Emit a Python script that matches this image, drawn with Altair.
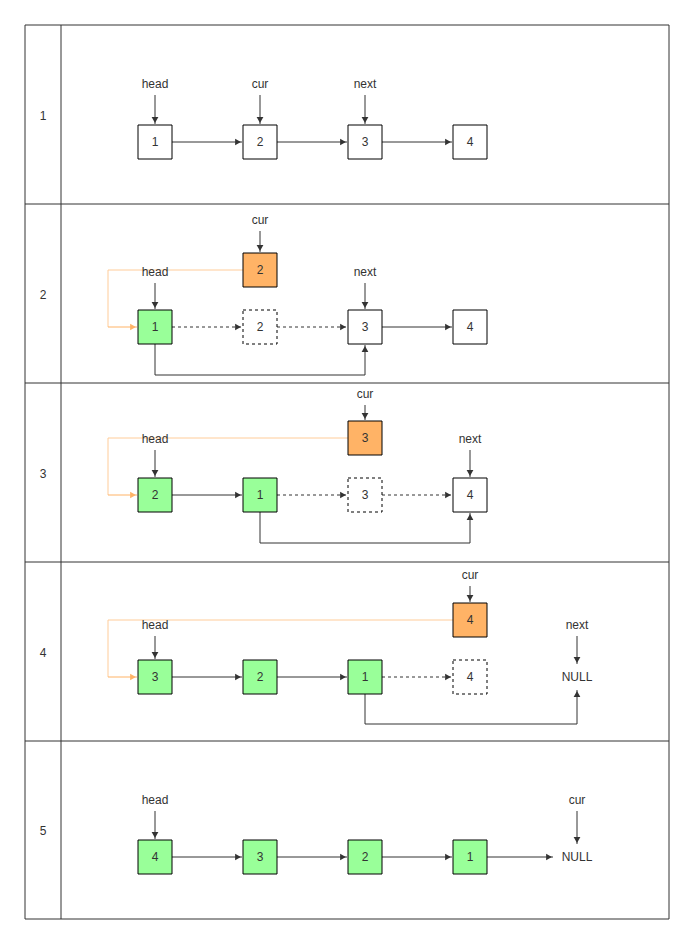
import altair as alt
import pandas as pd

# ---- diagram content ----
ROW_LABELS = ["1", "2", "3", "4", "5"]
ROW_BOUNDS = [25, 204, 383, 562, 741, 919]
SLOT_X = [155, 260, 365, 470, 577]
NODE_Y = [142, 327, 495, 677, 857]

# node values per row, one entry per slot (None = empty), and styles
NODE_VALUES = [
    ["1", "2", "3", "4", None],
    ["1", "2", "3", "4", None],
    ["2", "1", "3", "4", None],
    ["3", "2", "1", "4", None],
    ["4", "3", "2", "1", None],
]
NODE_STYLES = [
    ["w", "w", "w", "w", None],
    ["g", "d", "w", "w", None],
    ["g", "g", "d", "w", None],
    ["g", "g", "g", "d", None],
    ["g", "g", "g", "g", None],
]
NULL_ROWS = [3, 4]

# orange "cur" node: (row, slot, value, y)
ORANGE_NODES = [(1, 1, "2", 270), (2, 2, "3", 438), (3, 3, "4", 620)]

# pointer labels: (row, slot, text, label y)
POINTERS = [
    (0, 0, "head", 84), (0, 1, "cur", 84), (0, 2, "next", 84),
    (1, 1, "cur", 220), (1, 0, "head", 272), (1, 2, "next", 272),
    (2, 2, "cur", 394), (2, 0, "head", 439), (2, 3, "next", 439),
    (3, 3, "cur", 575), (3, 0, "head", 625), (3, 4, "next", 625),
    (4, 0, "head", 800), (4, 4, "cur", 800),
]

# links between slots: (row, from slot, to slot, dashed)
LINKS = [
    (0, 0, 1, False), (0, 1, 2, False), (0, 2, 3, False),
    (1, 0, 1, True), (1, 1, 2, True), (1, 2, 3, False),
    (2, 0, 1, False), (2, 1, 2, True), (2, 2, 3, True),
    (3, 0, 1, False), (3, 1, 2, False), (3, 2, 3, True),
    (4, 0, 1, False), (4, 1, 2, False), (4, 2, 3, False), (4, 3, 4, False),
]
# bottom bypass links: (row, from slot, to slot, bottom y)
BYPASS = [(1, 0, 2, 375), (2, 1, 3, 543), (3, 2, 4, 724)]

HALF = 17
GREEN = "#99ff99"
ORANGE = "#ffb366"
ORANGE_LINE = "#ffcc99"
DARK = "#333333"

boxes, texts, rules, heads = [], [], [], []


def arrow(x1, y1, x2, y2, dash=False, color=DARK, head=True):
    rules.append(dict(x=x1, y=y1, x2=x2, y2=y2, dash=dash, color=color))
    if not head:
        return
    if x2 > x1:
        shape, hx, hy = "triangle-right", x2 - 4, y2
    elif x2 < x1:
        shape, hx, hy = "triangle-left", x2 + 4, y2
    elif y2 > y1:
        shape, hx, hy = "triangle-down", x2, y2 - 4
    else:
        shape, hx, hy = "triangle-up", x2, y2 + 4
    heads.append(dict(x=hx, y=hy, shape=shape, color=color))


fills = {"w": "white", "g": GREEN, "d": "white"}
for r, (vals, styles) in enumerate(zip(NODE_VALUES, NODE_STYLES)):
    y = NODE_Y[r]
    for s, (v, st) in enumerate(zip(vals, styles)):
        if v is None:
            continue
        x = SLOT_X[s]
        boxes.append(dict(x=x - HALF, x2=x + HALF, y=y - HALF, y2=y + HALF,
                          fill=fills[st], dash=st == "d"))
        texts.append(dict(x=x, y=y, text=v))
for r in NULL_ROWS:
    texts.append(dict(x=SLOT_X[4], y=NODE_Y[r], text="NULL"))

for r, s, v, y in ORANGE_NODES:
    x = SLOT_X[s]
    boxes.append(dict(x=x - HALF, x2=x + HALF, y=y - HALF, y2=y + HALF,
                      fill=ORANGE, dash=False))
    texts.append(dict(x=x, y=y, text=v))
    ny = NODE_Y[r]
    arrow(x - HALF, y, 108, y, color=ORANGE_LINE, head=False)
    arrow(108, y, 108, ny, color=ORANGE_LINE, head=False)
    arrow(108, ny, SLOT_X[0] - HALF - 1, ny, color="#ffb366")

for r, s, text, ly in POINTERS:
    x = SLOT_X[s]
    texts.append(dict(x=x, y=ly, text=text))
    # target top: orange box or node
    target = NODE_Y[r] - HALF
    for orow, os_, _, oy in ORANGE_NODES:
        if orow == r and os_ == s:
            target = oy - HALF
    if s == 4:
        target = NODE_Y[r] - 12
    arrow(x, ly + 11, x, target - 1)

for r, a, b, dash in LINKS:
    y = NODE_Y[r]
    end = SLOT_X[b] - HALF - 1 if b < 4 else SLOT_X[b] - 24
    arrow(SLOT_X[a] + HALF, y, end, y, dash=dash)

for r, a, b, by in BYPASS:
    y = NODE_Y[r]
    xa, xb = SLOT_X[a], SLOT_X[b]
    top = y + HALF + 1 if b < 4 else y + 13
    arrow(xa, y + HALF, xa, by, head=False)
    arrow(xa, by, xb, by, head=False)
    arrow(xb, by, xb, top)

for i, lab in enumerate(ROW_LABELS):
    texts.append(dict(x=43, y=(ROW_BOUNDS[i] + ROW_BOUNDS[i + 1]) / 2 + 1, text=lab))

grid = [dict(x=25, x2=669, y=yy, y2=yy) for yy in ROW_BOUNDS[1:-1]]
grid.append(dict(x=61, x2=61, y=25, y2=919))

xs = alt.Scale(domain=[8, 685], nice=False, zero=False)
ys = alt.Scale(domain=[8, 937], nice=False, zero=False, reverse=True)


def X(f="x"):
    return alt.X(f"{f}:Q", scale=xs, axis=None)


def Y(f="y"):
    return alt.Y(f"{f}:Q", scale=ys, axis=None)


outer = alt.Chart(pd.DataFrame([dict(x=25, x2=669, y=25, y2=919)])).mark_rect(
    fill=None, stroke=DARK, strokeWidth=1
).encode(x=X(), x2="x2:Q", y=Y(), y2="y2:Q")

grid_l = alt.Chart(pd.DataFrame(grid)).mark_rule(color=DARK, strokeWidth=1).encode(
    x=X(), x2="x2:Q", y=Y(), y2="y2:Q")

rdf = pd.DataFrame(rules)
solid = alt.Chart(rdf[~rdf.dash]).mark_rule(strokeWidth=1).encode(
    x=X(), x2="x2:Q", y=Y(), y2="y2:Q", color=alt.Color("color:N", scale=None))
dashed = alt.Chart(rdf[rdf.dash]).mark_rule(strokeWidth=1, strokeDash=[3, 3]).encode(
    x=X(), x2="x2:Q", y=Y(), y2="y2:Q", color=alt.Color("color:N", scale=None))

hd = alt.Chart(pd.DataFrame(heads)).mark_point(filled=True, size=45, opacity=1).encode(
    x=X(), y=Y(), shape=alt.Shape("shape:N", scale=None),
    color=alt.Color("color:N", scale=None))

bdf = pd.DataFrame(boxes)
box_s = alt.Chart(bdf[~bdf.dash]).mark_rect(stroke="black", strokeWidth=1).encode(
    x=X(), x2="x2:Q", y=Y(), y2="y2:Q", fill=alt.Fill("fill:N", scale=None))
box_d = alt.Chart(bdf[bdf.dash]).mark_rect(stroke="black", strokeWidth=1,
                                           strokeDash=[3, 3]).encode(
    x=X(), x2="x2:Q", y=Y(), y2="y2:Q", fill=alt.Fill("fill:N", scale=None))

txt = alt.Chart(pd.DataFrame(texts)).mark_text(
    font="Liberation Sans", fontSize=12, color=DARK, baseline="middle", align="center"
).encode(x=X(), y=Y(), text="text:N")

chart = alt.layer(outer, grid_l, solid, dashed, hd, box_s, box_d, txt).properties(
    width=677, height=929, padding=0, autosize=alt.AutoSizeParams(type="none")
).configure_view(stroke=None)

chart.save("out.html", embed_options={"renderer": "svg", "actions": False})
